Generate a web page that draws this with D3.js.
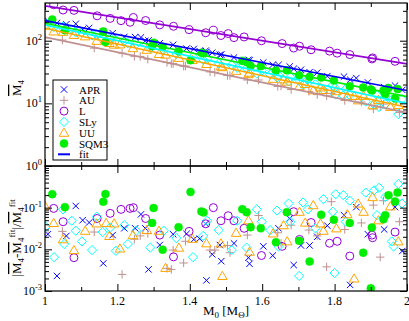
<!DOCTYPE html>
<html>
<head>
<meta charset="utf-8">
<script src="https://cdn.jsdelivr.net/npm/d3@7"></script>
<style>
  body { margin: 0; background: #fff; }
  svg text { font-family: "Liberation Serif", "DejaVu Serif", serif; fill: #000; }
</style>
</head>
<body>
<div class="canvas"></div>
<script>
// ---- data ----
const eosNames = ['APR', 'AU', 'L', 'SLy', 'UU', 'SQM3'];
const fitStart = [209, 114, 360, 179, 158, 190];   // fit value at M0 = 1
const fitEnd = [16.0, 7.1, 42.6, 10.0, 8.65, 12.8]; // fit value at M0 = 2

const aprMass = [1.008,1.033,1.059,1.085,1.104,1.122,1.161,1.187,1.219,1.249,1.265,1.277,1.286,1.317,1.354,1.391,1.411,1.427,1.444,1.446,1.462,1.483,1.487,1.522,1.562,1.565,1.603,1.629,1.645,1.676,1.687,1.707,1.731,1.752,1.780,1.826,1.843,1.860,1.892,1.937,1.967,1.987];
const aprM4 = [209,192,183,186,152,160,138,132,115,114,113,99.3,101,91.4,86.1,74.8,74.0,68.5,69.5,66.3,64.3,59.6,60.1,53.9,49.6,48.7,44.9,41.2,41.1,38.8,35.6,34.4,31.5,30.9,27.2,26.7,23.9,25.3,21.6,18.2,19.2,16.4];
const aprRes = [0.023,0.0023,0.021,0.11,0.050,0.044,0.0046,0.022,0.032,0.032,0.069,0.032,0.0033,0.0127,0.023,0.0235,0.0173,0.018,0.041,0.0018,0.0076,0.0127,0.0052,0.0139,0.0063,0.0045,0.0118,0.0071,0.032,0.055,0.0042,0.0124,0.0124,0.020,0.037,0.066,0.0014,0.103,0.023,0.030,0.103,0.0091];

const auMass = [1.000,1.048,1.136,1.213,1.247,1.263,1.284,1.337,1.349,1.354,1.383,1.388,1.456,1.469,1.504,1.511,1.559,1.590,1.643,1.652,1.680,1.729,1.752,1.778,1.791,1.828,1.874,1.907,1.926,1.935,1.979];
const auM4 = [111,102.5,76.1,63.3,56.4,56.1,50.6,44.9,43.1,43.1,39.2,39.4,31.8,31.3,27.8,27.8,23.6,23.6,18.6,18.9,16.6,15.5,13.8,13.2,14.4,11.1,10.5,8.13,8.77,9.74,7.17];
const auRes = [0.026,0.027,0.026,0.0025,0.0175,0.021,0.024,0.0035,0.0033,0.0096,0.0047,0.0156,0.0096,0.0096,0.0124,0.0083,0.022,0.065,0.025,0.0139,0.038,0.029,0.021,0.0038,0.139,0.030,0.043,0.115,0.0065,0.147,0.046];

const lMass = [1.024,1.050,1.080,1.144,1.180,1.210,1.235,1.244,1.278,1.317,1.355,1.398,1.444,1.465,1.486,1.506,1.522,1.550,1.598,1.655,1.687,1.703,1.735,1.786,1.807,1.842,1.903,1.905,1.967];
const lM4 = [375,309,305,250,227,209,197,235,210,179,170,150,134,147,121,130,112,115,99.8,90.0,76.4,81.7,71.7,68.2,63.3,60.1,51.2,53.2,46.9];
const lRes = [0.096,0.046,0.0063,0.055,0.073,0.091,0.096,0.10,0.055,0.022,0.0066,0.027,0.041,0.10,0.0485,0.064,0.0485,0.032,0.0071,0.0118,0.080,0.0173,0.044,0.014,0.0156,0.0069,0.022,0.019,0.026];

const slyMass = [1.002,1.025,1.050,1.053,1.074,1.085,1.102,1.130,1.143,1.159,1.180,1.196,1.219,1.229,1.252,1.291,1.328,1.363,1.409,1.437,1.448,1.480,1.516,1.531,1.557,1.585,1.599,1.622,1.641,1.645,1.673,1.678,1.702,1.713,1.726,1.747,1.769,1.795,1.800,1.803,1.824,1.831,1.842,1.886,1.909,1.917,1.923,1.940,1.958,1.963,1.976,1.986];
const slyM4 = [184,165.5,169,151.5,151.5,136.1,135.5,121.8,125.7,110.2,110.0,100.8,98.8,91.3,88.9,76.4,71.4,61.6,55.4,49.7,51.6,43.5,40.8,36.8,36.3,30.1,33.3,28.9,25.8,28.1,22.4,26.5,23.5,19.8,24.0,20.1,16.4,19.5,17.8,13.9,13.3,17.0,13.5,10.7,9.62,13.5,8.75,9.76,11.5,11.0,6.74,11.7];
const slyRes = [0.035,0.0065,0.091,0.0134,0.0485,0.028,0.0155,0.0096,0.061,0.026,0.033,0.0092,0.038,0.0134,0.028,0.011,0.028,0.0185,0.0065,0.021,0.0485,0.029,0.0096,0.0485,0.011,0.091,0.046,0.029,0.085,0.0117,0.126,0.046,0.0023,0.133,0.091,0.032,0.16,0.08,0.0027,0.21,0.20,0.046,0.147,0.23,0.26,0.066,0.30,0.18,0.0155,0.0117,0.37,0.126];

const uuMass = [1.000,1.024,1.050,1.080,1.111,1.143,1.169,1.178,1.191,1.207,1.243,1.281,1.315,1.333,1.370,1.407,1.446,1.486,1.490,1.528,1.562,1.565,1.630,1.659,1.669,1.703,1.719,1.741,1.761,1.769,1.805,1.835,1.854,1.865,1.880,1.905,1.921,1.954,1.976];
const uuM4 = [175,141,139,124,117.7,99.9,100.8,92.2,86.9,87.5,76.3,71.8,61.5,60.2,53.3,49.3,42.6,39.0,37.9,33.2,29.3,30.9,24.7,24.2,22.3,18.9,20.4,16.2,18.0,16.4,15.7,13.0,13.2,11.2,13.2,9.35,11.4,8.81,9.41];
const uuRes = [0.11,0.043,0.0175,0.0096,0.028,0.042,0.043,0.021,0.042,0.0105,0.022,0.029,0.028,0.0036,0.011,0.018,0.014,0.0139,0.0023,0.025,0.05,0.0088,0.0242,0.038,0.0156,0.08,0.044,0.115,0.042,0.028,0.032,0.07,0.002,0.126,0.08,0.18,0.05,0.108,0.0156];

const sqmMass = [1.020,1.055,1.161,1.167,1.296,1.300,1.325,1.369,1.402,1.432,1.438,1.545,1.557,1.568,1.596,1.638,1.668,1.702,1.731,1.763,1.798,1.842,1.879,1.900,1.903,1.935,1.940,1.949,1.967,1.974];
const sqmM4 = [218,146.9,140.0,95.4,81.8,92.9,79.8,67.8,48.9,64.0,62.8,47.6,45.6,39.6,39.2,33.5,33.7,28.1,26.5,25.9,23.2,18.7,17.9,16.7,16.0,16.0,14.0,17.6,12.0,16.9];
const sqmRes = [0.21,0.103,0.138,0.212,0.043,0.098,0.0098,0.034,0.239,0.081,0.077,0.092,0.078,0.034,0.032,0.0148,0.078,0.016,0.0051,0.068,0.051,0.043,0.0083,0.00116,0.0335,0.053,0.066,0.198,0.141,0.23];

const massTicks = [1, 1.2, 1.4, 1.6, 1.8, 2];

// ---- styling per set ----
const sets = [
  { mass: aprMass, m4: aprM4, res: aprRes, color: '#0000ff', shape: 'cross' },
  { mass: auMass, m4: auM4, res: auRes, color: '#c09090', shape: 'plus' },
  { mass: lMass, m4: lM4, res: lRes, color: '#9400d3', shape: 'circle' },
  { mass: slyMass, m4: slyM4, res: slyRes, color: '#00ffff', shape: 'diamond' },
  { mass: uuMass, m4: uuM4, res: uuRes, color: '#ffa500', shape: 'triangle' },
  { mass: sqmMass, m4: sqmM4, res: sqmRes, color: '#00ee00', shape: 'dot' }
];
sets.forEach((s, i) => { s.name = eosNames[i]; s.fit = [fitStart[i], fitEnd[i]]; });

const dims = { width: 409, height: 321, left: 45, right: 407, top: 3, mid: 166, bottom: 291 };

const svg = d3.select('.canvas')
  .append('svg')
  .attr('width', dims.width)
  .attr('height', dims.height);

const x = d3.scaleLinear().domain([1, 2]).range([dims.left, dims.right]);
const yTop = d3.scaleLog().domain([1, 400]).range([dims.mid, dims.top]);
const yBot = d3.scaleLog().domain([1e-3, 1]).range([dims.bottom, dims.mid]);

// marker paths
const markerPath = (shape) => {
  switch (shape) {
    case 'cross': return 'M-3.2,-3.2L3.2,3.2M-3.2,3.2L3.2,-3.2';
    case 'plus': return 'M-4.2,0L4.2,0M0,-4.2L0,4.2';
    case 'diamond': return 'M0,-4.6L4.6,0L0,4.6L-4.6,0Z';
    case 'triangle': return 'M0,-4.6L4.8,3.6L-4.8,3.6Z';
    default: return null;
  }
};

const drawMarkers = (g, s, data) => {
  if (s.shape === 'circle' || s.shape === 'dot') {
    g.selectAll('circle.m')
      .data(data)
      .enter().append('circle')
        .attr('class', 'm')
        .attr('cx', d => d[0])
        .attr('cy', d => d[1])
        .attr('r', 4)
        .attr('fill', s.shape === 'dot' ? s.color : 'none')
        .attr('stroke', s.color)
        .attr('stroke-width', s.shape === 'dot' ? 0.5 : 1);
  } else {
    g.selectAll('path.m')
      .data(data)
      .enter().append('path')
        .attr('class', 'm')
        .attr('d', markerPath(s.shape))
        .attr('transform', d => `translate(${d[0]},${d[1]})`)
        .attr('fill', 'none')
        .attr('stroke', s.color)
        .attr('stroke-width', 1);
  }
};

// clip paths for the two panels
const defs = svg.append('defs');
defs.append('clipPath').attr('id', 'clipTop').append('rect')
  .attr('x', dims.left).attr('y', dims.top)
  .attr('width', dims.right - dims.left).attr('height', dims.mid - dims.top);
defs.append('clipPath').attr('id', 'clipBot').append('rect')
  .attr('x', dims.left).attr('y', dims.mid)
  .attr('width', dims.right - dims.left).attr('height', dims.bottom - dims.mid);

const topG = svg.append('g').attr('clip-path', 'url(#clipTop)');
const botG = svg.append('g').attr('clip-path', 'url(#clipBot)');

// points
sets.forEach(s => {
  drawMarkers(topG.append('g'), s, s.mass.map((m, i) => [x(m), yTop(s.m4[i])]));
  drawMarkers(botG.append('g'), s, s.mass.map((m, i) => [x(m), yBot(s.res[i])]));
});

// fit lines (straight in log space)
const fitLine = d3.line().x(d => x(d[0])).y(d => yTop(d[1]));
sets.forEach(s => {
  topG.append('path')
    .datum([[1, s.fit[0]], [2, s.fit[1]]])
    .attr('d', fitLine)
    .attr('fill', 'none')
    .attr('stroke', s.color)
    .attr('stroke-width', 1.6);
});

// ---- axes ----
const minorX = d3.range(10, 21).map(v => v / 10).filter(v => !massTicks.includes(v));
const logMinors = (lo, hi) => {
  const out = [];
  for (let e = lo; e < hi; e++) for (let k = 2; k <= 9; k++) out.push(k * Math.pow(10, e));
  return out;
};

const tickAxis = (axisFn, scale, vals, size, pos, transformAttr) => {
  const g = svg.append('g')
    .attr('transform', transformAttr)
    .call(axisFn(scale).tickValues(vals).tickSizeInner(size).tickSizeOuter(0).tickFormat(''));
  g.select('.domain').remove();
  g.selectAll('line').attr('stroke', '#000').attr('stroke-width', 1);
  return g;
};

// x ticks on each horizontal edge
[[dims.top, d3.axisTop, 1], [dims.mid, d3.axisBottom, 1], [dims.mid, d3.axisTop, 1], [dims.bottom, d3.axisBottom, 1]]
  .forEach(([yy, fn]) => {
    const inward = (fn === d3.axisBottom) ? -1 : -1;
    tickAxis(fn, x, massTicks, -7, yy, `translate(0,${yy})`);
    tickAxis(fn, x, minorX, -4, yy, `translate(0,${yy})`);
  });

// y ticks, top panel (left and right)
const topMinors = logMinors(0, 2).concat([200, 300]);
const botMinors = logMinors(-3, 0);
[[dims.left, d3.axisLeft], [dims.right, d3.axisRight]].forEach(([xx, fn]) => {
  tickAxis(fn, yTop, [1, 10, 100], -7, xx, `translate(${xx},0)`);
  tickAxis(fn, yTop, topMinors, -4, xx, `translate(${xx},0)`);
  tickAxis(fn, yBot, [1e-3, 1e-2, 1e-1], -7, xx, `translate(${xx},0)`);
  tickAxis(fn, yBot, botMinors, -4, xx, `translate(${xx},0)`);
});

// x tick labels
svg.append('g').selectAll('text')
  .data(massTicks)
  .enter().append('text')
    .attr('x', d => x(d))
    .attr('y', dims.bottom + 14)
    .attr('text-anchor', 'middle')
    .attr('font-size', 12)
    .text(d => d3.format('~g')(d));

// y tick labels as powers of ten
const powLabel = (scale, exps) => {
  const t = svg.append('g').selectAll('text')
    .data(exps)
    .enter().append('text')
      .attr('x', dims.left - 3)
      .attr('y', d => scale(Math.pow(10, d)) + 4)
      .attr('text-anchor', 'end')
      .attr('font-size', 12);
  t.append('tspan').text('10');
  t.append('tspan').attr('dy', -5).attr('font-size', 8.5).text(d => d);
};
powLabel(yTop, [0, 1, 2]);
powLabel(yBot, [-3, -2, -1]);

// frames
[[dims.top, dims.mid], [dims.mid, dims.bottom]].forEach(([a, b]) => {
  svg.append('rect')
    .attr('x', dims.left).attr('y', a)
    .attr('width', dims.right - dims.left).attr('height', b - a)
    .attr('fill', 'none').attr('stroke', '#000').attr('stroke-width', 1.2);
});

// axis titles
const xTitle = svg.append('text')
  .attr('x', 226).attr('y', 315)
  .attr('text-anchor', 'middle')
  .attr('font-size', 13);
xTitle.append('tspan').text('M');
xTitle.append('tspan').attr('dy', 3).attr('font-size', 9).text('0');
xTitle.append('tspan').attr('dy', -3).text(' [M');
xTitle.append('tspan').attr('dy', 3).attr('font-size', 9).text('Θ');
xTitle.append('tspan').attr('dy', -3).text(']');

const barM = (t, size) => {
  t.append('tspan').style('text-decoration', 'overline').text('M');
  t.append('tspan').attr('dy', 3).attr('font-size', size).text('4');
};

const yTitleTop = svg.append('text')
  .attr('transform', 'translate(21,88) rotate(-90)')
  .attr('text-anchor', 'middle')
  .attr('font-size', 13);
barM(yTitleTop, 9);

const yTitleBot = svg.append('text')
  .attr('transform', 'translate(21,238) rotate(-90)')
  .attr('text-anchor', 'middle')
  .attr('font-size', 13);
yTitleBot.append('tspan').text('|');
barM(yTitleBot, 9);
yTitleBot.append('tspan').attr('dy', -3).text('-');
barM(yTitleBot, 9);
yTitleBot.append('tspan').attr('dy', -9).attr('font-size', 9).text('fit');
yTitleBot.append('tspan').attr('dy', 6).text('|/');
barM(yTitleBot, 9);
yTitleBot.append('tspan').attr('dy', -9).attr('font-size', 9).text('fit');

// ---- legend ----
const legend = svg.append('g');
legend.append('rect')
  .attr('x', 53).attr('y', 80).attr('width', 54).attr('height', 80)
  .attr('fill', '#fff').attr('stroke', '#000').attr('stroke-width', 1);

const rowY = i => 89.5 + i * 10.8;
sets.forEach((s, i) => {
  const g = legend.append('g');
  drawMarkers(g, s, [[64, rowY(i)]]);
  g.append('text')
    .attr('x', 79).attr('y', rowY(i) + 4)
    .attr('font-size', 11)
    .text(s.name);
});
legend.append('line')
  .attr('x1', 58).attr('x2', 70)
  .attr('y1', rowY(6)).attr('y2', rowY(6))
  .attr('stroke', '#0000ff').attr('stroke-width', 2);
legend.append('text')
  .attr('x', 79).attr('y', rowY(6) + 4)
  .attr('font-size', 11)
  .text('fit');
</script>
</body>
</html>
